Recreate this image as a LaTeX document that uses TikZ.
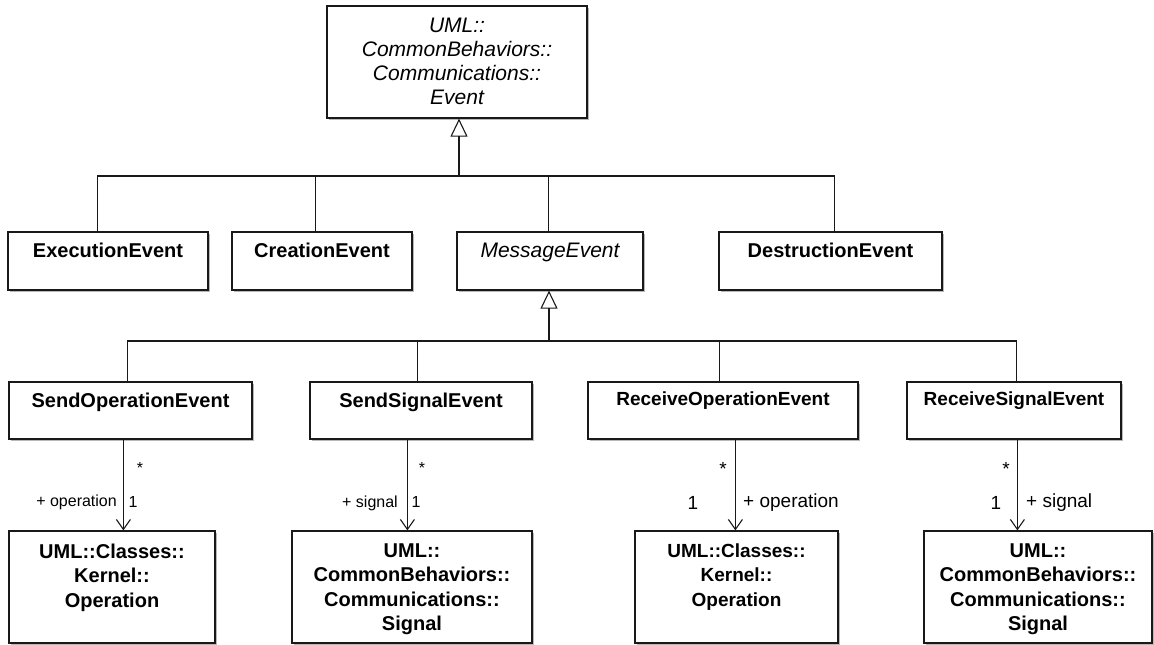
\documentclass[tikz,border=0pt]{standalone}
\usepackage{fontspec}
\setmainfont{Liberation Sans}
\usetikzlibrary{arrows.meta,shadows}
\begin{document}
\begin{tikzpicture}[x=1pt,y=-1pt,
  cls/.style={draw=black!90, line width=1.2pt, fill=white, inner sep=0pt,
    general shadow={fill=black!28, shadow xshift=2pt, shadow yshift=-2pt}},
  nm/.style={font=\fontsize{20}{24.5}\selectfont\bfseries, inner sep=0pt, align=center, anchor=north},
  nmr/.style={font=\fontsize{19}{24.5}\selectfont\bfseries, inner sep=0pt, align=center, anchor=north},
  nmi/.style={font=\fontsize{21}{24.3}\selectfont\itshape, inner sep=0pt, align=center, anchor=north},
  ln/.style={line width=1.1pt, draw=black!90},
  gen/.style={ln, -{Triangle[open, length=18pt, width=17pt, line width=1.1pt]}},
  assoc/.style={ln, -{Straight Barb[length=10pt, width=14pt, line width=1.1pt]}},
  lbls/.style={font=\fontsize{16}{18}\selectfont, inner sep=0pt},
  lblb/.style={font=\fontsize{19}{21}\selectfont, inner sep=0pt}
]
\useasboundingbox (0,0) rectangle (1154,645);

% top
\node[cls, minimum width=260pt, minimum height=112pt] (top) at (457,62) {};
\node[nmi] (topT) at ([yshift=-12pt]top.north) {UML::\\CommonBehaviors::\\Communications::\\Event};

% level 2
\node[cls, minimum width=200pt, minimum height=58pt] (exec) at (108,261) {};
\node[nm] (execT) at ([yshift=-11pt]exec.north) {ExecutionEvent};
\node[cls, minimum width=180pt, minimum height=58pt] (crea) at (322,261) {};
\node[nm] (creaT) at ([yshift=-11pt]crea.north) {CreationEvent};
\node[cls, minimum width=186pt, minimum height=58pt] (msg) at (550,261) {};
\node[nmi] (msgT) at ([yshift=-11pt]msg.north) {MessageEvent};
\node[cls, minimum width=223pt, minimum height=58pt] (dest) at (830.5,261) {};
\node[nm] (destT) at ([yshift=-11pt]dest.north) {DestructionEvent};

% level 3
\node[cls, minimum width=243pt, minimum height=57pt] (sop) at (130.5,410.5) {};
\node[nm] (sopT) at ([yshift=-11pt]sop.north) {SendOperationEvent};
\node[cls, minimum width=222pt, minimum height=57pt] (ssig) at (421,410.5) {};
\node[nm] (ssigT) at ([yshift=-11pt]ssig.north) {SendSignalEvent};
\node[cls, minimum width=270pt, minimum height=57pt] (rop) at (723,410.5) {};
\node[nmr] (ropT) at ([yshift=-10pt]rop.north) {ReceiveOperationEvent};
\node[cls, minimum width=214pt, minimum height=57pt] (rsig) at (1014,410.5) {};
\node[nmr] (rsigT) at ([yshift=-10pt]rsig.north) {ReceiveSignalEvent};

% level 4
\node[cls, minimum width=206pt, minimum height=112pt] (op1) at (112,587) {};
\node[nm] (op1T) at ([yshift=-13pt]op1.north) {UML::Classes::\\Kernel::\\Operation};
\node[cls, minimum width=240pt, minimum height=112pt] (sg1) at (412,587) {};
\node[nm] (sg1T) at ([yshift=-13pt]sg1.north) {UML::\\CommonBehaviors::\\Communications::\\Signal};
\node[cls, minimum width=203pt, minimum height=112pt] (op2) at (736.5,587) {};
\node[nmr] (op2T) at ([yshift=-13pt]op2.north) {UML::Classes::\\Kernel::\\Operation};
\node[cls, minimum width=228pt, minimum height=112pt] (sg2) at (1038,587) {};
\node[nm] (sg2T) at ([yshift=-13pt]sg2.north) {UML::\\CommonBehaviors::\\Communications::\\Signal};

% generalization 1
\coordinate (b1) at (459,176);
\draw[gen] (b1) -- (b1 |- top.south);
\draw[ln] ([xshift=90pt]exec.north west) |- (b1);
\draw[ln] ([xshift=84pt]crea.north west) |- (b1);
\draw[ln] ([xshift=92pt]msg.north west) |- (b1);
\draw[ln] ([xshift=116pt]dest.north west) |- (b1);

% generalization 2
\coordinate (b2) at (549,341);
\draw[gen] (b2) -- (b2 |- msg.south);
\draw[ln] ([xshift=119pt]sop.north west) |- (b2);
\draw[ln] ([xshift=108pt]ssig.north west) |- (b2);
\draw[ln] ([xshift=132pt]rop.north west) |- (b2);
\draw[ln] ([xshift=110pt]rsig.north west) |- (b2);

% associations
\draw[assoc] ([xshift=115pt]sop.south west) -- ([xshift=115pt]op1.north west);
\draw[assoc] ([xshift=98pt]ssig.south west) -- ([xshift=116pt]sg1.north west);
\draw[assoc] ([xshift=148pt]rop.south west) -- ([xshift=101pt]op2.north west);
\draw[assoc] ([xshift=111pt]rsig.south west) -- ([xshift=94pt]sg2.north west);

% multiplicities and role names
\node[lbls] (m1a) at (140,468) {*};
\node[lbls, anchor=east] (r1) at (117,502) {+ operation};
\node[lbls] (m1b) at (133,502) {1};
\node[lbls] (m2a) at (422,468) {*};
\node[lbls, anchor=east] (r2) at (398,503) {+ signal};
\node[lbls] (m2b) at (416,502) {1};
\node[lblb] (m3a) at (723,469) {*};
\node[lblb] (m3b) at (693,503) {1};
\node[lblb, anchor=west] (r3) at (743,503) {+ operation};
\node[lblb] (m4a) at (1006,469) {*};
\node[lblb] (m4b) at (996,503) {1};
\node[lblb, anchor=west] (r4) at (1026,503) {+ signal};
\end{tikzpicture}
\end{document}
